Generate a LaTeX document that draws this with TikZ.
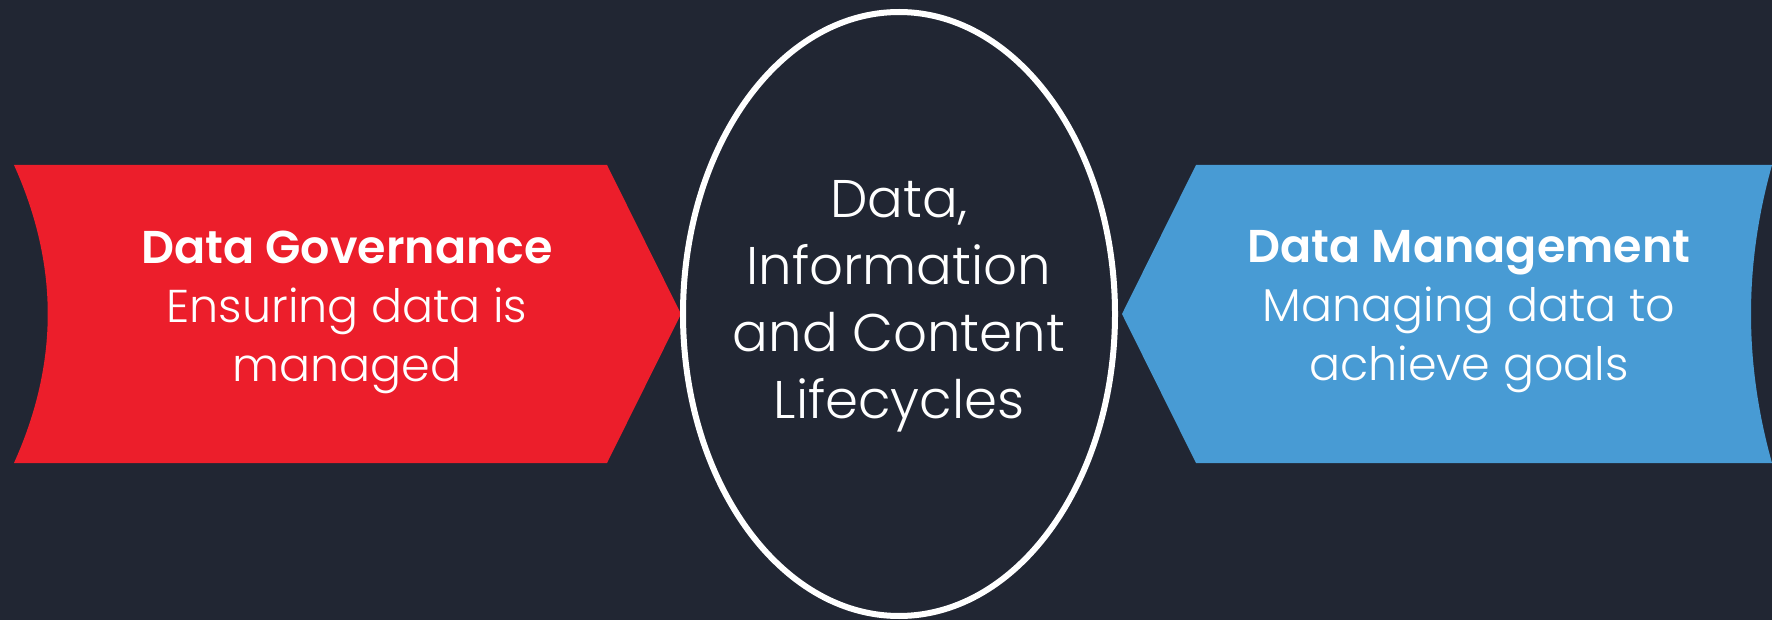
\documentclass[tikz,border=0pt]{standalone}
\usepackage{fontspec}
\setmainfont{Poppins}[UprightFont=* Light, BoldFont=* SemiBold]
\usetikzlibrary{shapes.geometric}
\definecolor{bgc}{HTML}{212633}
\definecolor{redc}{HTML}{EC1E2B}
\definecolor{bluec}{HTML}{489BD4}
\begin{document}
\begin{tikzpicture}[x=1pt,y=-1pt,
  sidetext/.style={text=white, align=center, inner sep=0pt, font=\fontsize{46}{59}\selectfont},
  midtext/.style={text=white, align=center, inner sep=0pt, font=\fontsize{53}{67}\selectfont},
  ring/.style={draw=white, line width=6pt, ellipse, inner sep=0pt, minimum width=432pt, minimum height=604pt}]
\fill[bgc] (0,0) rectangle (1772,620);
\useasboundingbox (0,0) rectangle (1772,620);
% red chevron
\fill[redc] (14,165) -- (607,165) -- (681,314) -- (607,463) -- (14,463)
  .. controls (59,363) and (59,265) .. (14,165) -- cycle;
% blue chevron
\fill[bluec] (1772,165) -- (1196,165) -- (1122,314) -- (1196,463) -- (1772,463)
  .. controls (1744,363) and (1744,265) .. (1772,165) -- cycle;
% central ellipse
\node[ring] (lc) at (899,314) {};
\node[midtext] (lct) at (899,306) {Data,\\Information\\and Content\\Lifecycles};
\node[sidetext] (dg) at (347,312) {\textbf{Data Governance}\\Ensuring data is\\managed};
\node[sidetext] (dm) at (1469,312) {\textbf{Data Management}\\Managing data to\\achieve goals};
\end{tikzpicture}
\end{document}
